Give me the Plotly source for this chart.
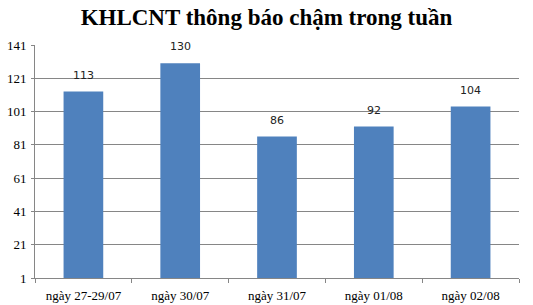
import plotly.graph_objects as go

categories = ["ngày 27-29/07", "ngày 30/07", "ngày 31/07", "ngày 01/08", "ngày 02/08"]
values = [113, 130, 86, 92, 104]
title_text = "KHLCNT thông báo chậm trong tuần"
y_ticks = [1, 21, 41, 61, 81, 101, 121, 141]

fig = go.Figure()
fig.add_trace(go.Bar(
    x=categories, y=values, base=0,
    marker=dict(color="#4F81BD", line=dict(width=0)),
    width=0.41,
))

for c, v in zip(categories, values):
    fig.add_annotation(x=c, y=v, text=str(v), showarrow=False,
                       yanchor="bottom", yshift=8,
                       font=dict(family="DejaVu Sans", size=11, color="#222222"))

fig.update_layout(
    width=533, height=305,
    margin=dict(l=35, r=14, t=45, b=27),
    paper_bgcolor="white", plot_bgcolor="white",
    showlegend=False,
    title=dict(text="<b>" + title_text + "</b>", x=0.5, xanchor="center",
               y=0.945, yanchor="middle",
               font=dict(family="Liberation Serif", size=23, color="black")),
    bargap=0.59,
)
fig.update_xaxes(
    type="category", automargin=False,
    showline=True, linecolor="#868686", linewidth=1,
    ticks="outside", tickson="boundaries", ticklen=4, tickcolor="#868686",
    ticklabelstandoff=5,
    tickfont=dict(family="Liberation Serif", size=13, color="black"),
    showgrid=False,
)
fig.update_yaxes(
    range=[1, 141], tickvals=y_ticks, automargin=False,
    showline=True, linecolor="#868686", linewidth=1,
    ticks="outside", ticklen=3, tickcolor="#868686",
    ticklabelstandoff=2,
    showgrid=True, gridcolor="#868686", gridwidth=1,
    zeroline=False,
    tickfont=dict(family="Liberation Serif", size=13, color="black"),
)

fig.write_html("out.html")
